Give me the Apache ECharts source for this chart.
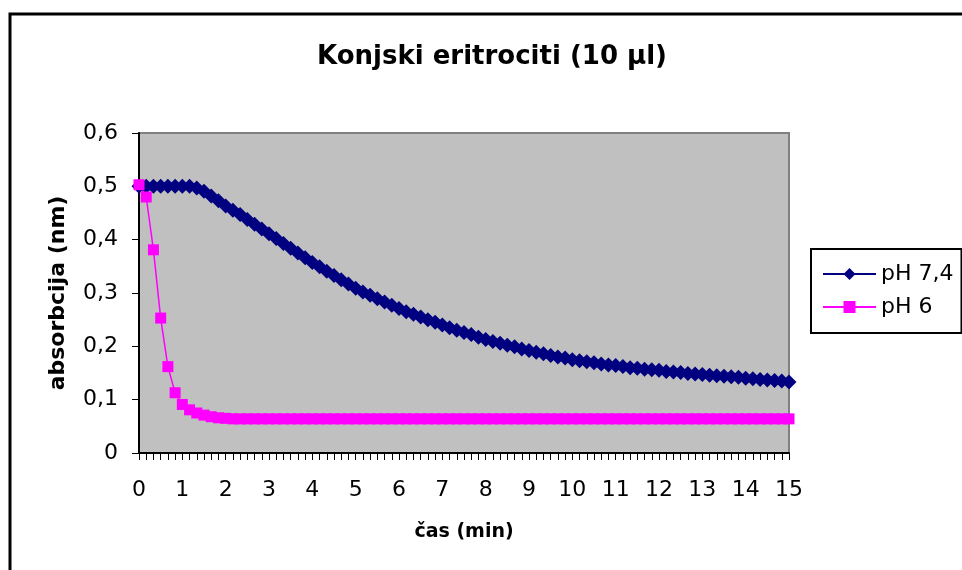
<!DOCTYPE html>
<html>
<head>
<meta charset="utf-8">
<script src="https://cdn.jsdelivr.net/npm/echarts@6/dist/echarts.min.js"></script>
<style>
html,body{margin:0;padding:0;background:#fff;}
#c{width:962px;height:570px;}
</style>
</head>
<body>
<div id="c"></div>
<script>
// ---- data (sampled every 10 s, 0 .. 15 min) ----
const titleText = 'Konjski eritrociti (10 µl)';
const xName = 'čas (min)';
const yName = 'absorbcija (nm)';
const seriesNames = ['pH 7,4', 'pH 6'];
const sampleStepMin = 10 / 60;
const xTickLabels = ['0','1','2','3','4','5','6','7','8','9','10','11','12','13','14','15'];
const yTickLabels = ['0','0,1','0,2','0,3','0,4','0,5','0,6'];

const ph74 = [
  0.500,0.500,0.500,0.500,0.500,0.500,0.500,0.500,0.497,0.491,
  0.482,0.473,0.463,0.455,0.447,0.438,0.429,0.420,0.411,0.402,
  0.393,0.384,0.375,0.366,0.357,0.349,0.341,0.333,0.325,0.317,
  0.309,0.302,0.296,0.289,0.283,0.277,0.271,0.265,0.260,0.255,
  0.250,0.245,0.240,0.235,0.230,0.226,0.222,0.217,0.213,0.209,
  0.206,0.202,0.199,0.195,0.192,0.189,0.186,0.183,0.180,0.178,
  0.175,0.173,0.171,0.169,0.167,0.165,0.164,0.162,0.160,0.159,
  0.157,0.156,0.155,0.153,0.152,0.151,0.149,0.148,0.147,0.146,
  0.145,0.144,0.143,0.142,0.140,0.139,0.138,0.137,0.136,0.135,
  0.133
];

const ph6 = [
  0.503,0.480,0.381,0.253,0.162,0.113,0.091,0.081,0.075,0.071,
  0.068,0.066,0.065,0.064,0.064,0.064,0.064,0.064,0.064,0.064,
  0.064,0.064,0.064,0.064,0.064,0.064,0.064,0.064,0.064,0.064,
  0.064,0.064,0.064,0.064,0.064,0.064,0.064,0.064,0.064,0.064,
  0.064,0.064,0.064,0.064,0.064,0.064,0.064,0.064,0.064,0.064,
  0.064,0.064,0.064,0.064,0.064,0.064,0.064,0.064,0.064,0.064,
  0.064,0.064,0.064,0.064,0.064,0.064,0.064,0.064,0.064,0.064,
  0.064,0.064,0.064,0.064,0.064,0.064,0.064,0.064,0.064,0.064,
  0.064,0.064,0.064,0.064,0.064,0.064,0.064,0.064,0.064,0.064,
  0.064
];

const toPairs = arr => arr.map((v, i) => [i * sampleStepMin, v]);

const FONT = 'DejaVu Sans';
const chart = echarts.init(document.getElementById('c'), null, {renderer: 'canvas'});
chart.setOption({
  animation: false,
  backgroundColor: '#ffffff',
  textStyle: {fontFamily: FONT},
  graphic: [{
    type: 'rect', silent: true, z: -10,
    shape: {x: 10, y: 14, width: 1000, height: 600},
    style: {fill: 'none', stroke: '#000', lineWidth: 3}
  }],
  title: {
    text: titleText,
    left: 317, top: 44,
    padding: 0,
    textStyle: {fontFamily: FONT, fontWeight: 'bold', fontSize: 26, color: '#000'}
  },
  legend: {
    orient: 'vertical',
    left: 811, top: 249,
    padding: [14, 8, 15, 11],
    itemGap: 11,
    itemWidth: 53, itemHeight: 15,
    borderColor: '#000', borderWidth: 2,
    textStyle: {fontFamily: FONT, fontSize: 22, color: '#000'},
    data: seriesNames
  },
  grid: {
    left: 139, right: 173, top: 133, bottom: 117,
    show: true, backgroundColor: '#C0C0C0', borderColor: '#808080', borderWidth: 2,
    containLabel: false, outerBoundsMode: 'none'
  },
  xAxis: {
    type: 'value', min: 0, max: 15, interval: 1,
    name: xName, nameLocation: 'middle', nameGap: 70,
    nameTextStyle: {fontFamily: FONT, fontWeight: 'bold', fontSize: 19, color: '#000'},
    axisLine: {show: true, onZero: false, lineStyle: {color: '#000', width: 2}},
    axisTick: {show: true, length: 7, lineStyle: {color: '#000', width: 1}},
    minorTick: {show: true, splitNumber: 6, length: 7, lineStyle: {color: '#000', width: 1}},
    splitLine: {show: false}, minorSplitLine: {show: false},
    axisLabel: {
      margin: 26, fontFamily: FONT, fontSize: 22, color: '#000',
      formatter: v => xTickLabels[Math.round(v)]
    }
  },
  yAxis: {
    type: 'value', min: 0, max: 0.6, interval: 0.1,
    name: yName, nameLocation: 'middle', nameGap: 70, nameRotate: 90,
    nameTextStyle: {fontFamily: FONT, fontWeight: 'bold', fontSize: 22, color: '#000'},
    axisLine: {show: true, lineStyle: {color: '#000', width: 2}},
    axisTick: {show: true, length: 7, lineStyle: {color: '#000', width: 1}},
    splitLine: {show: false},
    axisLabel: {
      margin: 21, fontFamily: FONT, fontSize: 22, color: '#000',
      formatter: v => yTickLabels[Math.round(v * 10)]
    }
  },
  series: [
    {
      name: seriesNames[0], type: 'line',
      data: toPairs(ph74),
      symbol: 'diamond', symbolSize: 15,
      lineStyle: {color: '#000080', width: 2},
      itemStyle: {color: '#000080', borderWidth: 0},
      emphasis: {disabled: true}
    },
    {
      name: seriesNames[1], type: 'line',
      data: toPairs(ph6),
      symbol: 'rect', symbolSize: 11,
      lineStyle: {color: '#FF00FF', width: 1.5},
      itemStyle: {color: '#FF00FF', borderWidth: 0},
      emphasis: {disabled: true}
    }
  ]
});
</script>
</body>
</html>
